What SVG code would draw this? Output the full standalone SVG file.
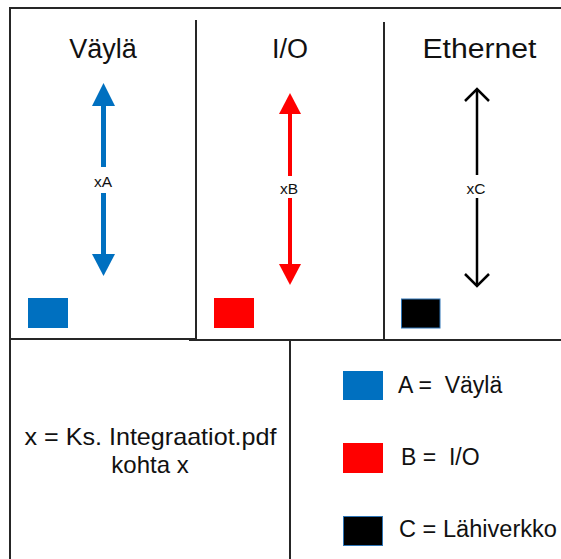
<svg xmlns="http://www.w3.org/2000/svg" width="561" height="559" viewBox="0 0 561 559">
  <style>
    .frame { stroke: #262626; stroke-width: 2; fill: none; }
    .t { font-family: "Liberation Sans", Arial, sans-serif; fill: #111; text-anchor: middle; white-space: pre; }
    .title { font-size: 27px; }
    .lbl { font-size: 15.5px; }
    .leg { font-size: 23px; text-anchor: start; }
    .note { font-size: 24px; }
  </style>
  <rect width="561" height="559" fill="#ffffff"/>

  <g id="frame">
    <line class="frame" x1="9" y1="8" x2="561" y2="8"/>
    <line class="frame" x1="10" y1="8" x2="10" y2="559"/>
    <line class="frame" x1="196" y1="20" x2="196" y2="339"/>
    <line class="frame" x1="384" y1="22" x2="384" y2="339"/>
    <line class="frame" x1="10" y1="339" x2="196" y2="339"/>
    <line class="frame" x1="189" y1="340" x2="561" y2="340"/>
    <line class="frame" x1="290" y1="340" x2="290" y2="559"/>
  </g>

  <g id="vayla">
    <text class="t title" x="103" y="58">Väylä</text>
    <rect x="28" y="298" width="40" height="30" fill="#0070c0"/>
  </g>
  <g id="io">
    <text class="t title" x="290" y="58">I/O</text>
    <rect x="214" y="298" width="40" height="30" fill="#ff0000"/>
  </g>
  <g id="ethernet">
    <text class="t title" x="479.5" y="58" textLength="114" lengthAdjust="spacingAndGlyphs">Ethernet</text>
    <rect x="401.5" y="299" width="38.5" height="29" fill="#000000" stroke="#2e75b6" stroke-width="1"/>
  </g>

  <g id="connectors">
    <g id="conn-a">
      <line x1="103.5" y1="103" x2="103.5" y2="167" stroke="#0070c0" stroke-width="5"/>
      <line x1="103.5" y1="193" x2="103.5" y2="257" stroke="#0070c0" stroke-width="5"/>
      <polygon points="103.5,83 115,106 92,106" fill="#0070c0"/>
      <polygon points="103.5,276 115,254 92,254" fill="#0070c0"/>
      <text class="t lbl" x="103" y="187">xA</text>
    </g>
    <g id="conn-b">
      <line x1="290" y1="111" x2="290" y2="176" stroke="#ff0000" stroke-width="4"/>
      <line x1="290" y1="198" x2="290" y2="266" stroke="#ff0000" stroke-width="4"/>
      <polygon points="290,93 301,114 279,114" fill="#ff0000"/>
      <polygon points="290,285 301,264 279,264" fill="#ff0000"/>
      <text class="t lbl" x="289" y="194">xB</text>
    </g>
    <g id="conn-c">
      <line x1="477" y1="89" x2="477" y2="175" stroke="#000" stroke-width="2.5"/>
      <line x1="477" y1="198" x2="477" y2="286" stroke="#000" stroke-width="2.5"/>
      <polyline points="465,101 477,89 489,101" fill="none" stroke="#000" stroke-width="2.5"/>
      <polyline points="465,274 477,286 489,274" fill="none" stroke="#000" stroke-width="2.5"/>
      <text class="t lbl" x="476" y="194">xC</text>
    </g>
  </g>

  <g id="note">
    <text class="t note" x="150.5" y="445" textLength="252" lengthAdjust="spacingAndGlyphs">x = Ks. Integraatiot.pdf</text>
    <text class="t note" x="150" y="473">kohta x</text>
  </g>

  <g id="legend">
    <rect x="343" y="371" width="40" height="29" fill="#0070c0"/>
    <text class="t leg" x="398" y="393">A =  Väylä</text>
    <rect x="343" y="443" width="40" height="30" fill="#ff0000"/>
    <text class="t leg" x="401" y="465">B =  I/O</text>
    <rect x="343.5" y="516.5" width="39" height="29" fill="#000000" stroke="#2e75b6" stroke-width="1"/>
    <text class="t leg" x="399" y="537" textLength="158" lengthAdjust="spacingAndGlyphs">C = Lähiverkko</text>
  </g>
</svg>
